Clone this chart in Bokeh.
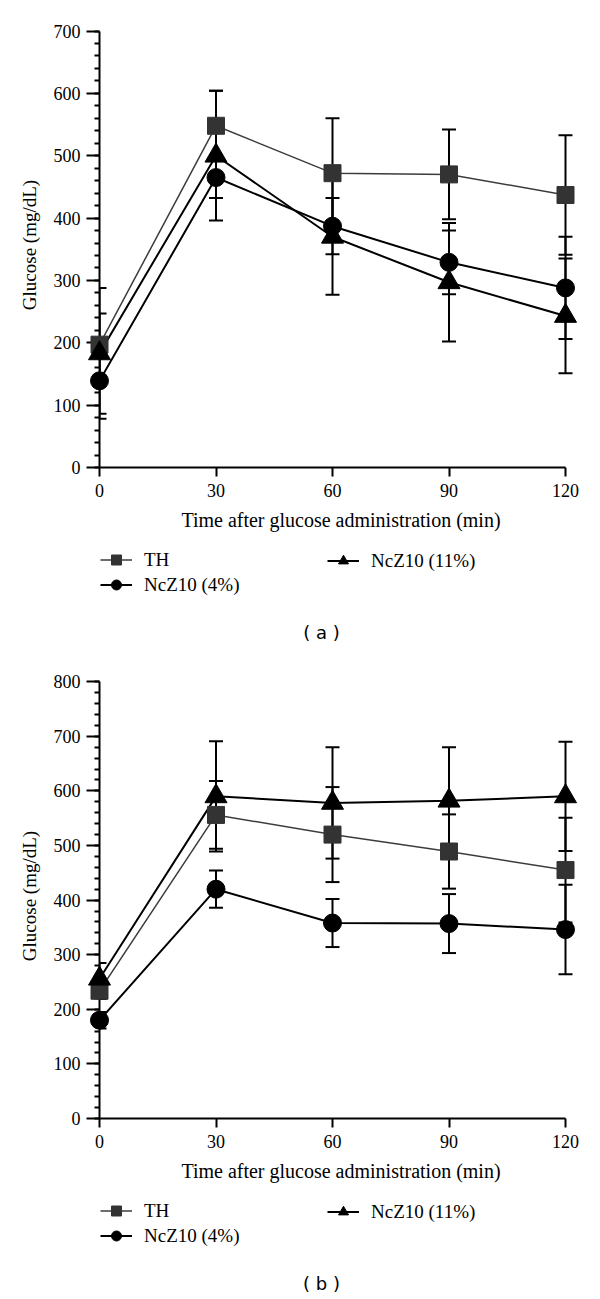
import math
from bokeh.plotting import figure
from bokeh.models import (Range1d, FixedTicker, SingleIntervalTicker, ColumnDataSource,
                          Whisker, TeeHead, Legend, LegendItem, Label)
from bokeh.layouts import column
from bokeh.embed import file_html
from bokeh.resources import INLINE

# ---------------- data ----------------
time_min = [0, 30, 60, 90, 120]
x_tick_values = [0, 30, 60, 90, 120]
series_labels = ["TH", "NcZ10 (4%)", "NcZ10 (11%)"]
x_title = "Time after glucose administration (min)"
y_title = "Glucose (mg/dL)"
panel_tags = ["( a )", "( b )"]

# panel (a)
th_a = [197, 548, 472, 470, 437]
th_a_sd = [50, 56, 88, 72, 96]
ncz4_a = [139, 465, 387, 329, 288]
ncz4_a_sd = [53, 33, 45, 51, 82]
ncz11_a = [183, 500, 370, 297, 243]
ncz11_a_sd = [105, 104, 93, 95, 92]
y_max_a = 700

# panel (b)
th_b = [234, 556, 520, 489, 455]
th_b_sd = [15, 62, 87, 68, 96]
ncz4_b = [180, 420, 358, 357, 346]
ncz4_b_sd = [15, 34, 44, 54, 82]
ncz11_b = [256, 590, 578, 582, 590]
ncz11_b_sd = [29, 101, 102, 98, 100]
y_max_b = 800

SERIF = "Liberation Serif"
FIG_W = 590
FRAME_LEFT = 99

STYLES = [
    dict(marker="square", size=17, lsize=11, fill="#333333", line="#3c3c3c", lw=1.5),
    dict(marker="circle", size=18, lsize=12, fill="black", line="black", lw=2),
    dict(marker="triangle", size=22, lsize=15, fill="black", line="black", lw=2),
]


def make_plot(top_border, frame_h, bottom_border, y_max, y_top_val, series):
    kx = (565 - 99) / 120.0
    frame_w = FIG_W - FRAME_LEFT - 8
    p = figure(width=FIG_W, height=top_border + frame_h + bottom_border,
               min_border_left=FRAME_LEFT, min_border_right=8,
               min_border_top=top_border, min_border_bottom=bottom_border,
               x_range=Range1d(0, frame_w / kx), y_range=Range1d(0, y_top_val),
               output_backend="svg", toolbar_location=None,
               background_fill_color="white", border_fill_color="white")
    p.outline_line_color = None
    p.xgrid.grid_line_color = None
    p.ygrid.grid_line_color = None

    xa = p.xaxis[0]
    xa.bounds = (0, 120)
    xa.ticker = FixedTicker(ticks=x_tick_values)
    xa.axis_line_width = 2
    xa.major_tick_line_width = 2
    xa.major_tick_in = 0
    xa.major_tick_out = 9
    xa.minor_tick_line_color = None
    xa.major_label_standoff = 7
    xa.major_label_text_font = SERIF
    xa.major_label_text_font_size = "18px"
    xa.major_label_text_color = "black"
    xa.axis_label = x_title
    xa.axis_label_standoff = 9
    xa.axis_label_text_font = SERIF
    xa.axis_label_text_font_size = "20px"
    xa.axis_label_text_font_style = "normal"
    xa.axis_label_text_color = "black"

    ya = p.yaxis[0]
    ya.bounds = (0, y_max)
    ya.ticker = SingleIntervalTicker(interval=100, num_minor_ticks=5)
    ya.axis_line_width = 2
    ya.major_tick_line_width = 2
    ya.minor_tick_line_width = 2
    ya.major_tick_in = 0
    ya.major_tick_out = 13
    ya.minor_tick_in = 0
    ya.minor_tick_out = 5
    ya.major_label_standoff = 6
    ya.major_label_text_font = SERIF
    ya.major_label_text_font_size = "18px"
    ya.major_label_text_color = "black"
    ya.axis_label = y_title
    ya.axis_label_standoff = 11
    ya.axis_label_text_font = SERIF
    ya.axis_label_text_font_size = "19px"
    ya.axis_label_text_font_style = "normal"
    ya.axis_label_text_color = "black"

    for (label, vals, sd), st in zip(series, STYLES):
        src = ColumnDataSource(dict(x=time_min, y=vals,
                                    upper=[v + e for v, e in zip(vals, sd)],
                                    lower=[v - e for v, e in zip(vals, sd)]))
        p.add_layout(Whisker(source=src, base="x", upper="upper", lower="lower",
                             dimension="height", line_color="black", line_width=2,
                             level="annotation",
                             upper_head=TeeHead(size=14, line_width=2, line_color="black"),
                             lower_head=TeeHead(size=14, line_width=2, line_color="black")))
        p.line("x", "y", source=src, line_color=st["line"], line_width=st["lw"])
        p.scatter("x", "y", source=src, marker=st["marker"], size=st["size"],
                  fill_color=st["fill"], line_color=st["fill"], line_width=1,
                  level="overlay")
    return p


def make_legend(height, tag):
    q = figure(width=FIG_W, height=height, x_range=Range1d(0, 1), y_range=Range1d(0, 1),
               x_axis_location=None, y_axis_location=None, min_border=0,
               output_backend="svg", toolbar_location=None,
               background_fill_color="white", border_fill_color="white")
    q.outline_line_color = None
    q.xgrid.grid_line_color = None
    q.ygrid.grid_line_color = None
    nan = float("nan")
    items = []
    for label, st in zip(series_labels, STYLES):
        # legend proxies: one undrawable (NaN) point each
        ln = q.line([nan], [nan], line_color=st["line"], line_width=st["lw"])
        mk = q.scatter([nan], [nan], marker=st["marker"], size=st["lsize"],
                       fill_color=st["fill"], line_color=st["fill"])
        items.append(LegendItem(label=label, renderers=[ln, mk]))
    common = dict(glyph_width=32, glyph_height=25, label_height=25, label_standoff=12,
                  spacing=0, padding=0, margin=0, border_line_alpha=0,
                  background_fill_alpha=0, label_text_font=SERIF,
                  label_text_font_size="19px", label_text_color="black")
    # the column layout aligns this frame with the plot frame (left edge at FRAME_LEFT)
    q.add_layout(Legend(items=items[:2], location=(100 - FRAME_LEFT, height - 55.1), **common))
    q.add_layout(Legend(items=items[2:], location=(327 - FRAME_LEFT, height - 31.2), **common))
    q.add_layout(Label(x=321 - FRAME_LEFT, y=height - 89.7, x_units="screen", y_units="screen",
                       text=tag, text_align="center", text_baseline="middle",
                       text_font="DejaVu Sans", text_font_size="18px", text_color="black"))
    return q


pa = make_plot(22, 445, 75, y_max_a, 445 / (436.5 / 700.0),
               [(series_labels[0], th_a, th_a_sd),
                (series_labels[1], ncz4_a, ncz4_a_sd),
                (series_labels[2], ncz11_a, ncz11_a_sd)])
la = make_legend(106, panel_tags[0])
pb = make_plot(25, 445, 75, y_max_b, 445 / (436.8 / 800.0),
               [(series_labels[0], th_b, th_b_sd),
                (series_labels[1], ncz4_b, ncz4_b_sd),
                (series_labels[2], ncz11_b, ncz11_b_sd)])
lb = make_legend(106, panel_tags[1])

layout = column(pa, la, pb, lb, spacing=0)
open("out.html", "w").write(file_html(layout, INLINE))
